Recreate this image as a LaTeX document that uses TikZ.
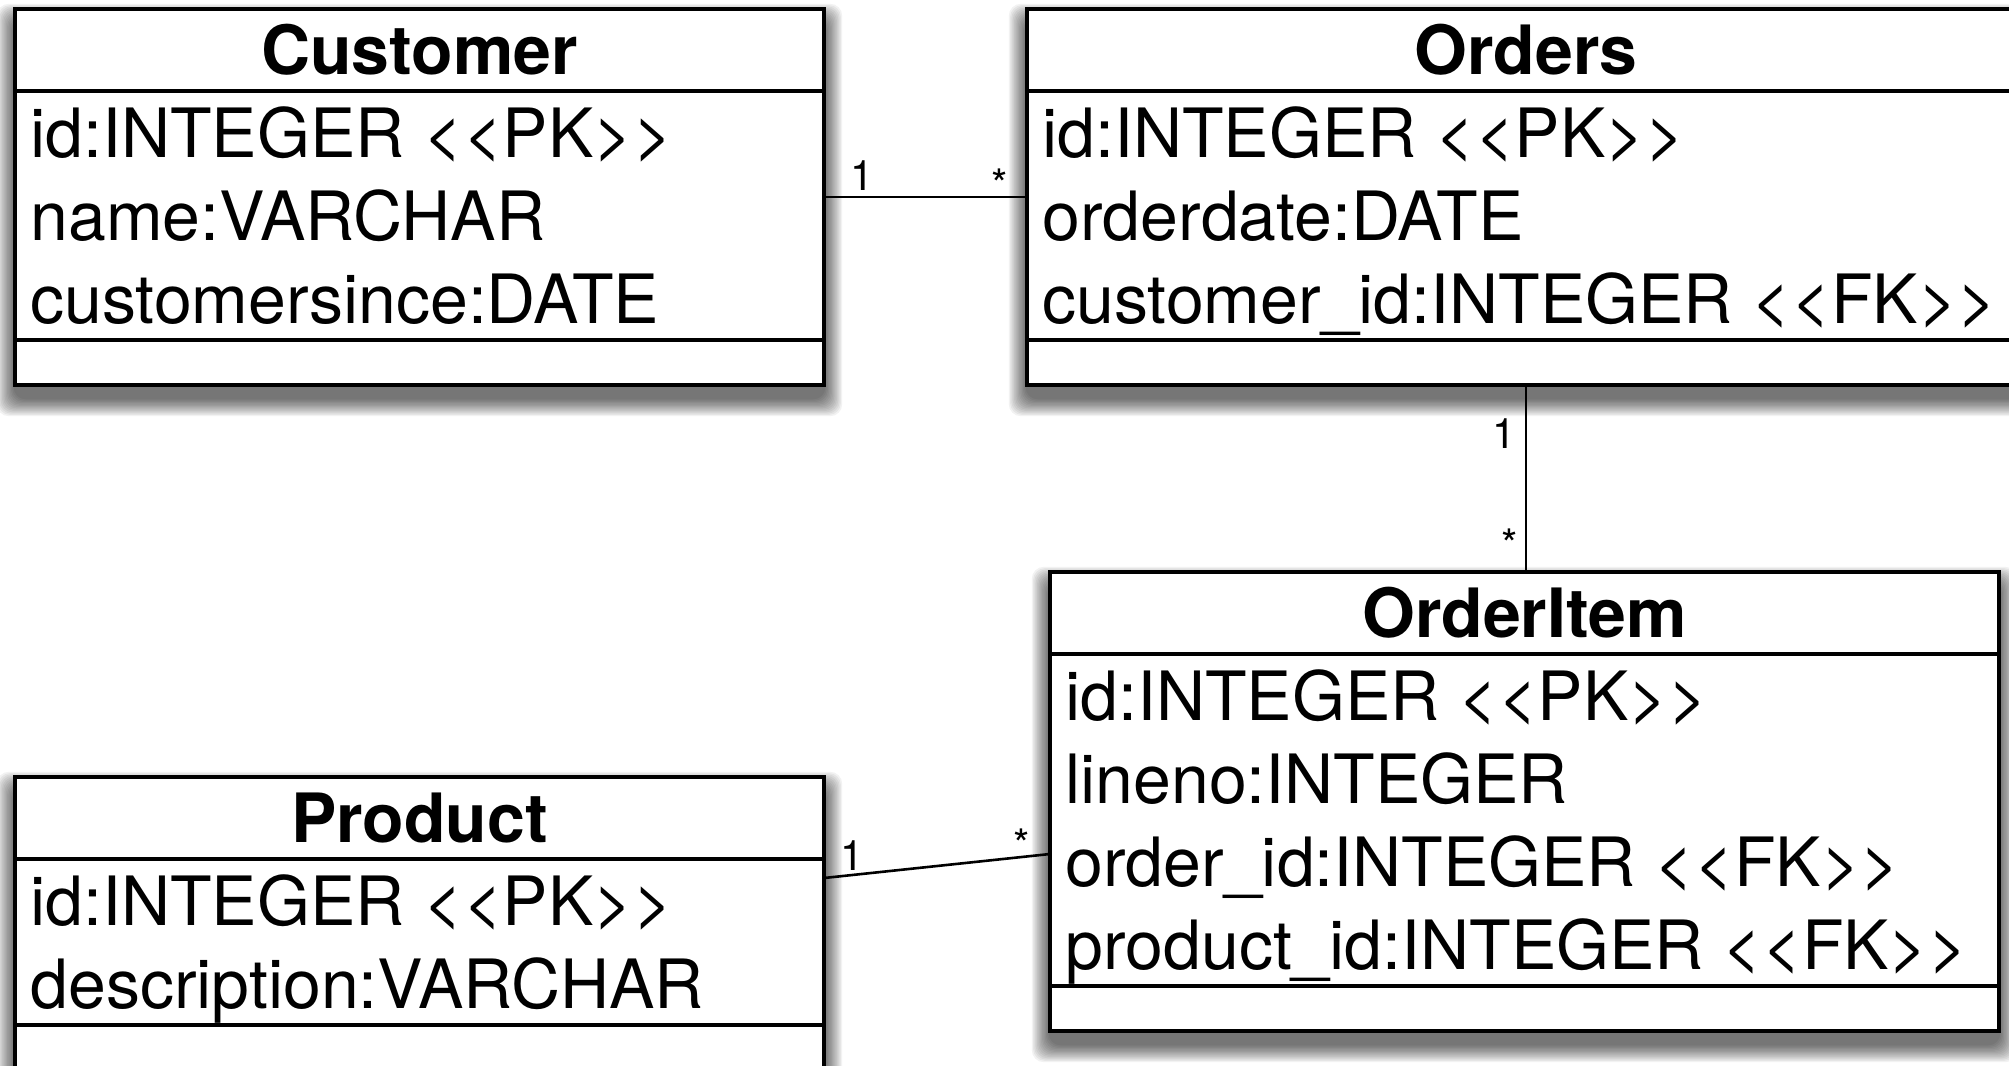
\documentclass[tikz,border=0pt]{standalone}
\usepackage{fontspec}
\setmainfont{TeX Gyre Heros}
\usetikzlibrary{fit,calc}

\tikzset{
  classbox/.style={draw=black, line width=1.6pt, fill=white, inner sep=0pt, outer sep=0pt},
  sepline/.style={line width=1.6pt},
  conn/.style={line width=1.3pt},
  titletext/.style={font=\fontsize{34pt}{40pt}\selectfont\bfseries, inner sep=0pt, anchor=base},
  attrtext/.style={font=\fontsize{34pt}{40pt}\selectfont, inner sep=0pt, anchor=base west},
  multtext/.style={font=\fontsize{21pt}{25pt}\selectfont, inner sep=0pt, anchor=base},
}

\newcommand\ershadow[4]{%
  \foreach \k in {1,...,14}{
    \fill[black, opacity=0.05, rounded corners=6pt] (#1-\k*1.3, #2+13-\k*1.3) rectangle (#3+\k*1.3, #4+13+\k*1.3);
  }%
}

\begin{document}
\begin{tikzpicture}[x=0.5pt,y=-0.5pt]
\clip (0,0) rectangle (2009,1066);
\fill[white] (0,0) rectangle (2009,1066);

% shadows
\ershadow{15}{9}{824}{385}
\ershadow{1027}{9}{2025}{385}
\ershadow{1050}{572}{1999}{1031}
\ershadow{15}{777}{824}{1070}

% Customer
\node[classbox, fit={(15,9)(824,385)}] (customer) {};
\draw[sepline] (customer.west |- 0,91) -- (customer.east |- 0,91);
\draw[sepline] (customer.west |- 0,340) -- (customer.east |- 0,340);
\node[titletext] (customer-t) at (419.5,74) {Customer};
\node[attrtext] (customer-a1) at (30,157) {id:INTEGER <{}<PK>{}>};
\node[attrtext] (customer-a2) at (30,240) {name:VARCHAR};
\node[attrtext] (customer-a3) at (30,323) {customersince:DATE};

% Orders
\node[classbox, fit={(1027,9)(2025,385)}] (orders) {};
\draw[sepline] (orders.west |- 0,91) -- (orders.east |- 0,91);
\draw[sepline] (orders.west |- 0,340) -- (orders.east |- 0,340);
\node[titletext] (orders-t) at (1526,74) {Orders};
\node[attrtext] (orders-a1) at (1042,157) {id:INTEGER <{}<PK>{}>};
\node[attrtext] (orders-a2) at (1042,240) {orderdate:DATE};
\node[attrtext] (orders-a3) at (1042,323) {customer\_id:INTEGER <{}<FK>{}>};

% OrderItem
\node[classbox, fit={(1050,572)(1999,1031)}] (orderitem) {};
\draw[sepline] (orderitem.west |- 0,654) -- (orderitem.east |- 0,654);
\draw[sepline] (orderitem.west |- 0,986) -- (orderitem.east |- 0,986);
\node[titletext] (orderitem-t) at (1524.5,637) {OrderItem};
\node[attrtext] (orderitem-a1) at (1065,720) {id:INTEGER <{}<PK>{}>};
\node[attrtext] (orderitem-a2) at (1065,803) {lineno:INTEGER};
\node[attrtext] (orderitem-a3) at (1065,886) {order\_id:INTEGER <{}<FK>{}>};
\node[attrtext] (orderitem-a4) at (1065,969) {product\_id:INTEGER <{}<FK>{}>};

% Product
\node[classbox, fit={(15,777)(824,1070)}] (product) {};
\draw[sepline] (product.west |- 0,859) -- (product.east |- 0,859);
\draw[sepline] (product.west |- 0,1025) -- (product.east |- 0,1025);
\node[titletext] (product-t) at (419.5,842) {Product};
\node[attrtext] (product-a1) at (30,925) {id:INTEGER <{}<PK>{}>};
\node[attrtext] (product-a2) at (30,1008) {description:VARCHAR};

% connectors
\draw[conn] (customer.east) -- (orders.west);
\node[multtext] (m1) at (862,190) {1};
\node[multtext] (m2) at (1000,199) {*};

\draw[conn] (orders.south) -- (orders.south |- orderitem.north);
\node[multtext, anchor=base east] (m3) at (1516,448) {1};
\node[multtext] (m4) at (1510,559) {*};

\draw[conn] ($(product.north east)+(0,101)$) -- ($(orderitem.north west)+(0,282)$);
\node[multtext] (m5) at (852,870) {1};
\node[multtext] (m6) at (1022,859) {*};
\end{tikzpicture}
\end{document}
